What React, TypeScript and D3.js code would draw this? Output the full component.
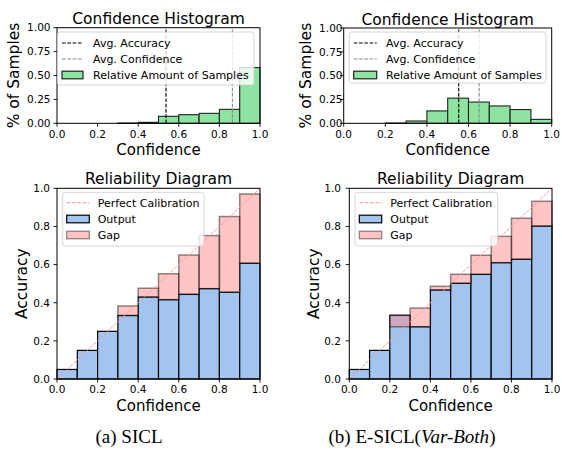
import React from 'react'
import * as d3 from 'd3'

const FONT = 'DejaVu Sans'

// bins of the confidence axis
const binStarts = [0, 0.1, 0.2, 0.3, 0.4, 0.5, 0.6, 0.7, 0.8, 0.9]
const binWidth = 0.1
const confTicks = [0, 0.2, 0.4, 0.6, 0.8, 1.0]
const histTicks = [0, 0.25, 0.5, 0.75, 1.0]
const accTicks = [0, 0.2, 0.4, 0.6, 0.8, 1.0]

// (a) SICL
const samplesSICL = [0, 0, 0, 0.003, 0.01, 0.073, 0.09, 0.104, 0.146, 0.583]
const accSICL = [0.05, 0.15, 0.25, 0.333, 0.43, 0.416, 0.444, 0.474, 0.455, 0.607]
const confSICL = [0.05, 0.15, 0.25, 0.383, 0.476, 0.552, 0.65, 0.752, 0.852, 0.97]
const avgAccSICL = 0.537
const avgConfSICL = 0.864

// (b) E-SICL(Var-Both)
const samplesESICL = [0, 0, 0.003, 0.024, 0.13, 0.264, 0.223, 0.182, 0.144, 0.041]
const accESICL = [0.05, 0.15, 0.334, 0.274, 0.467, 0.502, 0.549, 0.61, 0.628, 0.802]
const confESICL = [0.05, 0.15, 0.274, 0.372, 0.486, 0.549, 0.649, 0.748, 0.843, 0.932]
const avgAccESICL = 0.553
const avgConfESICL = 0.651

const GREEN = '#8de39f'
const BLUE = '#a1c5ef'
const PINK = '#ff8a8a'
const DASH = '3.7,1.6'

type Scale = d3.ScaleLinear<number, number>

function Frame({ x, y, xt, yt, yFmt, yTickEnd, title, titleY, xLabelY, yLabel, yLabelX }: any) {
  const [x0, x1] = x.range()
  const [yb, yt0] = y.range()
  const fx = d3.format('.1f')
  return (
    <g fontFamily={FONT} fill="#000">
      <rect x={x0} y={yt0} width={x1 - x0} height={yb - yt0} fill="none" stroke="#000" strokeWidth={1} />
      {xt.map((t: number) => (
        <g key={'x' + t}>
          <line x1={x(t)} x2={x(t)} y1={yb} y2={yb + 3.5} stroke="#000" strokeWidth={0.9} />
          <text x={x(t)} y={yb + 14.2} textAnchor="middle" fontSize={10.5}>{fx(t)}</text>
        </g>
      ))}
      {yt.map((t: number) => (
        <g key={'y' + t}>
          <line x1={x0 - 3.5} x2={x0} y1={y(t)} y2={y(t)} stroke="#000" strokeWidth={0.9} />
          <text x={yTickEnd} y={y(t)} dy="0.36em" textAnchor="end" fontSize={10.5}>{yFmt(t)}</text>
        </g>
      ))}
      <text x={(x0 + x1) / 2} y={titleY} textAnchor="middle" fontSize={15.5}>{title}</text>
      <text x={(x0 + x1) / 2} y={xLabelY} textAnchor="middle" fontSize={15}>Confidence</text>
      <text transform={`translate(${yLabelX},${(yb + yt0) / 2}) rotate(-90)`} textAnchor="middle" fontSize={15.5}>
        {yLabel}
      </text>
    </g>
  )
}

function Legend({ box, handleX, textX, rows }: any) {
  return (
    <g fontFamily={FONT}>
      <rect x={box[0]} y={box[1]} width={box[2] - box[0]} height={box[3] - box[1]} rx={2.5}
        fill="#fff" fillOpacity={0.8} stroke="#cccccc" strokeWidth={0.8} />
      {rows.map((r: any) => (
        <g key={r.label}>
          {r.kind === 'line' ? (
            <line x1={handleX[0]} x2={handleX[1]} y1={r.y} y2={r.y} stroke={r.stroke} strokeWidth={r.width || 1.1}
              strokeDasharray={DASH} />
          ) : (
            <rect x={handleX[0]} y={r.y - 3.8} width={handleX[1] - handleX[0]} height={7.6}
              fill={r.fill} fillOpacity={r.fillOpacity ?? 1} stroke={r.stroke} strokeOpacity={r.strokeOpacity ?? 1}
              strokeWidth={1.2} />
          )}
          <text x={textX} y={r.y} dy="0.36em" fontSize={11}>{r.label}</text>
        </g>
      ))}
    </g>
  )
}

function Histogram({ area, samples, avgAcc, avgConf, yTickEnd, yLabelX, titleY, xLabelY, legend }: any) {
  const x: Scale = d3.scaleLinear().domain([0, 1]).range([area.x0, area.x1])
  const y: Scale = d3.scaleLinear().domain([0, 1]).range([area.y1, area.y0])
  return (
    <g>
      {binStarts.map((b, i) => (
        <rect key={i} x={x(b)} y={y(samples[i])} width={x(b + binWidth) - x(b)} height={y(0) - y(samples[i])}
          fill={GREEN} stroke="#222" strokeWidth={1.1} />
      ))}
      <line x1={x(avgAcc)} x2={x(avgAcc)} y1={y(0)} y2={y(1)} stroke="#000" strokeWidth={1.1} strokeDasharray={DASH} />
      <line x1={x(avgConf)} x2={x(avgConf)} y1={y(0)} y2={y(1)} stroke="#888" strokeWidth={1.1} strokeDasharray={DASH} />
      <Frame x={x} y={y} xt={confTicks} yt={histTicks} yFmt={d3.format('.2f')} yTickEnd={yTickEnd}
        title="Confidence Histogram" titleY={titleY} xLabelY={xLabelY} yLabel="% of Samples" yLabelX={yLabelX} />
      <Legend {...legend} rows={[
        { kind: 'line', label: 'Avg. Accuracy', stroke: '#000', y: legend.rowY[0] },
        { kind: 'line', label: 'Avg. Confidence', stroke: '#888', y: legend.rowY[1] },
        { kind: 'patch', label: 'Relative Amount of Samples', fill: GREEN, stroke: '#222', y: legend.rowY[2] },
      ]} />
    </g>
  )
}

function Reliability({ area, acc, conf, yTickEnd, yLabelX, titleY, xLabelY, legend }: any) {
  const x: Scale = d3.scaleLinear().domain([0, 1]).range([area.x0, area.x1])
  const y: Scale = d3.scaleLinear().domain([0, 1]).range([area.y1, area.y0])
  return (
    <g>
      {binStarts.map((b, i) => (
        <rect key={'o' + i} x={x(b)} y={y(acc[i])} width={x(b + binWidth) - x(b)} height={y(0) - y(acc[i])}
          fill={BLUE} stroke="#000" strokeWidth={1.2} />
      ))}
      {binStarts.map((b, i) => {
        const lo = Math.min(acc[i], conf[i])
        const hi = Math.max(acc[i], conf[i])
        if (hi - lo < 1e-6) return null
        return (
          <rect key={'g' + i} x={x(b)} y={y(hi)} width={x(b + binWidth) - x(b)} height={y(lo) - y(hi)}
            fill={PINK} fillOpacity={0.5} stroke="#000" strokeOpacity={0.45} strokeWidth={1.5} />
        )
      })}
      <line x1={x(0)} y1={y(0)} x2={x(1)} y2={y(1)} stroke="#ff9494" strokeWidth={1} strokeDasharray="3.2,1.4" />
      <Frame x={x} y={y} xt={confTicks} yt={accTicks} yFmt={d3.format('.1f')} yTickEnd={yTickEnd}
        title="Reliability Diagram" titleY={titleY} xLabelY={xLabelY} yLabel="Accuracy" yLabelX={yLabelX} />
      <Legend {...legend} rows={[
        { kind: 'line', label: 'Perfect Calibration', stroke: '#ff9494', width: 1, y: legend.rowY[0] },
        { kind: 'patch', label: 'Output', fill: BLUE, stroke: '#000', y: legend.rowY[1] },
        { kind: 'patch', label: 'Gap', fill: PINK, fillOpacity: 0.5, stroke: '#000', strokeOpacity: 0.45, y: legend.rowY[2] },
      ]} />
    </g>
  )
}

export default function App() {
  return (
    <div style={{ position: 'absolute', left: 0, top: 0 }}>
      <svg width={562} height={465} viewBox="0 0 562 465" style={{ display: 'block', background: '#fff' }}>
        <Histogram area={{ x0: 57, x1: 260, y0: 27.7, y1: 123.3 }} samples={samplesSICL}
          avgAcc={avgAccSICL} avgConf={avgConfSICL} yTickEnd={50.5} yLabelX={19} titleY={23.5} xLabelY={155}
          legend={{ box: [57.5, 32, 254, 85], handleX: [62, 83], textX: 93, rowY: [43, 59, 75] }} />
        <Histogram area={{ x0: 343.7, x1: 551.7, y0: 28, y1: 123.3 }} samples={samplesESICL}
          avgAcc={avgAccESICL} avgConf={avgConfESICL} yTickEnd={342.5} yLabelX={311} titleY={24.5} xLabelY={155}
          legend={{ box: [349.3, 32, 546, 83], handleX: [353.7, 376.7], textX: 386, rowY: [43, 59, 75] }} />
        <Reliability area={{ x0: 57, x1: 260, y0: 188.3, y1: 379 }} acc={accSICL} conf={confSICL}
          yTickEnd={50} yLabelX={27} titleY={183.5} xLabelY={410.7}
          legend={{ box: [62.7, 192.3, 204, 246], handleX: [66.7, 89.3], textX: 97.7, rowY: [202.7, 219, 235] }} />
        <Reliability area={{ x0: 349.3, x1: 552, y0: 188.3, y1: 379 }} acc={accESICL} conf={confESICL}
          yTickEnd={341} yLabelX={318.5} titleY={183.5} xLabelY={410.7}
          legend={{ box: [355, 192.3, 497.7, 246], handleX: [359.3, 381.7], textX: 390.3, rowY: [202.7, 219, 235] }} />
        <g fontFamily="Liberation Serif" fontSize={19} fill="#000">
          <text x={129} y={443} textAnchor="middle">(a) SICL</text>
          <text x={412} y={443} textAnchor="middle">
            (b) E-SICL(<tspan fontStyle="italic">Var-Both</tspan>)
          </text>
        </g>
      </svg>
    </div>
  )
}
